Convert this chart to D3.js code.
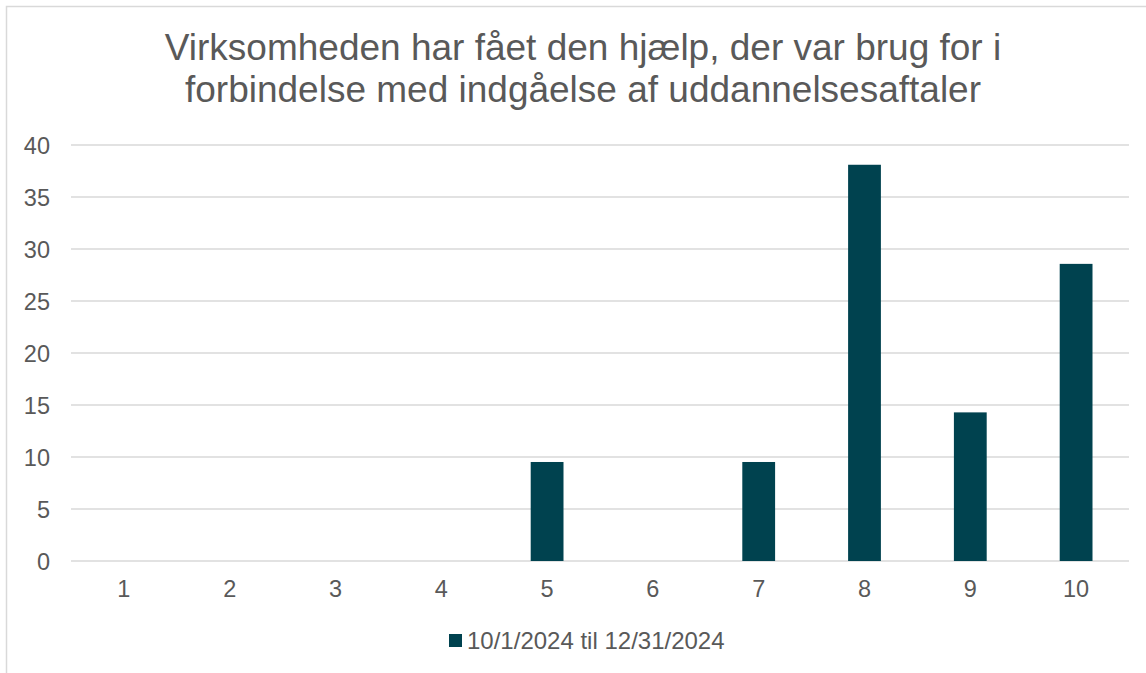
<!DOCTYPE html>
<html>
<head>
<meta charset="utf-8">
<script src="https://cdn.jsdelivr.net/npm/d3@7"></script>
<style>
  html, body { margin: 0; padding: 0; background: #fff; }
  svg { display: block; }
  text { font-family: "Liberation Sans", Arial, sans-serif; fill: #595959; }
</style>
</head>
<body>
<svg id="chart" width="1146" height="673"></svg>
<script>
const titleLines = ["Virksomheden har fået den hjælp, der var brug for i", "forbindelse med indgåelse af uddannelsesaftaler"];
const categories = ["1", "2", "3", "4", "5", "6", "7", "8", "9", "10"];
const values = [0, 0, 0, 0, 9.52, 0, 9.52, 38.10, 14.29, 28.57];
const yTicks = [0, 5, 10, 15, 20, 25, 30, 35, 40];
const seriesName = "10/1/2024 til 12/31/2024";

const svg = d3.select("#chart");
const barColor = "#00424F";

// chart border
svg.append("rect").attr("x", 6.5).attr("y", 6.5).attr("width", 1153).attr("height", 700)
  .attr("fill", "#fff").attr("stroke", "#d9d9d9").attr("stroke-width", 1.5);

// title
svg.append("text").attr("x", 583).attr("y", 60).attr("text-anchor", "middle")
  .style("font-size", "37px")
  .selectAll("tspan").data(titleLines).join("tspan")
  .attr("x", 583).attr("dy", (d, i) => i === 0 ? 0 : 42).text(d => d);

const x = d3.scaleBand().domain(categories).range([71, 1129]).paddingInner(0.69).paddingOuter(0.345);
const y = d3.scaleLinear().domain([0, 40]).range([561, 145]);

// gridlines
svg.append("g").selectAll("line").data(yTicks).join("line")
  .attr("x1", 71).attr("x2", 1129)
  .attr("y1", d => y(d)).attr("y2", d => y(d))
  .attr("stroke", "#d9d9d9").attr("stroke-width", 1.5);

// y axis
const yAxis = svg.append("g").attr("transform", "translate(71,0)")
  .call(d3.axisLeft(y).tickValues(yTicks).tickSize(0).tickPadding(21));
yAxis.select(".domain").remove();
yAxis.selectAll("text").style("font-size", "23.5px").attr("fill", "#595959").attr("dy", "0.36em");

// bars
svg.append("g").selectAll("rect").data(values).join("rect")
  .attr("x", (d, i) => x(categories[i]))
  .attr("width", x.bandwidth())
  .attr("y", d => y(d))
  .attr("height", d => y(0) - y(d))
  .attr("fill", barColor);

// x axis
const xAxis = svg.append("g").attr("transform", "translate(0,561)")
  .call(d3.axisBottom(x).tickSize(0).tickPadding(19));
xAxis.select(".domain").remove();
xAxis.selectAll("text").style("font-size", "23.5px").attr("fill", "#595959");

// legend
const lg = svg.append("g");
lg.append("rect").attr("x", 449).attr("y", 634).attr("width", 13).attr("height", 13).attr("fill", barColor);
lg.append("text").attr("x", 467).attr("y", 649).style("font-size", "24px").text(seriesName);
</script>
</body>
</html>
